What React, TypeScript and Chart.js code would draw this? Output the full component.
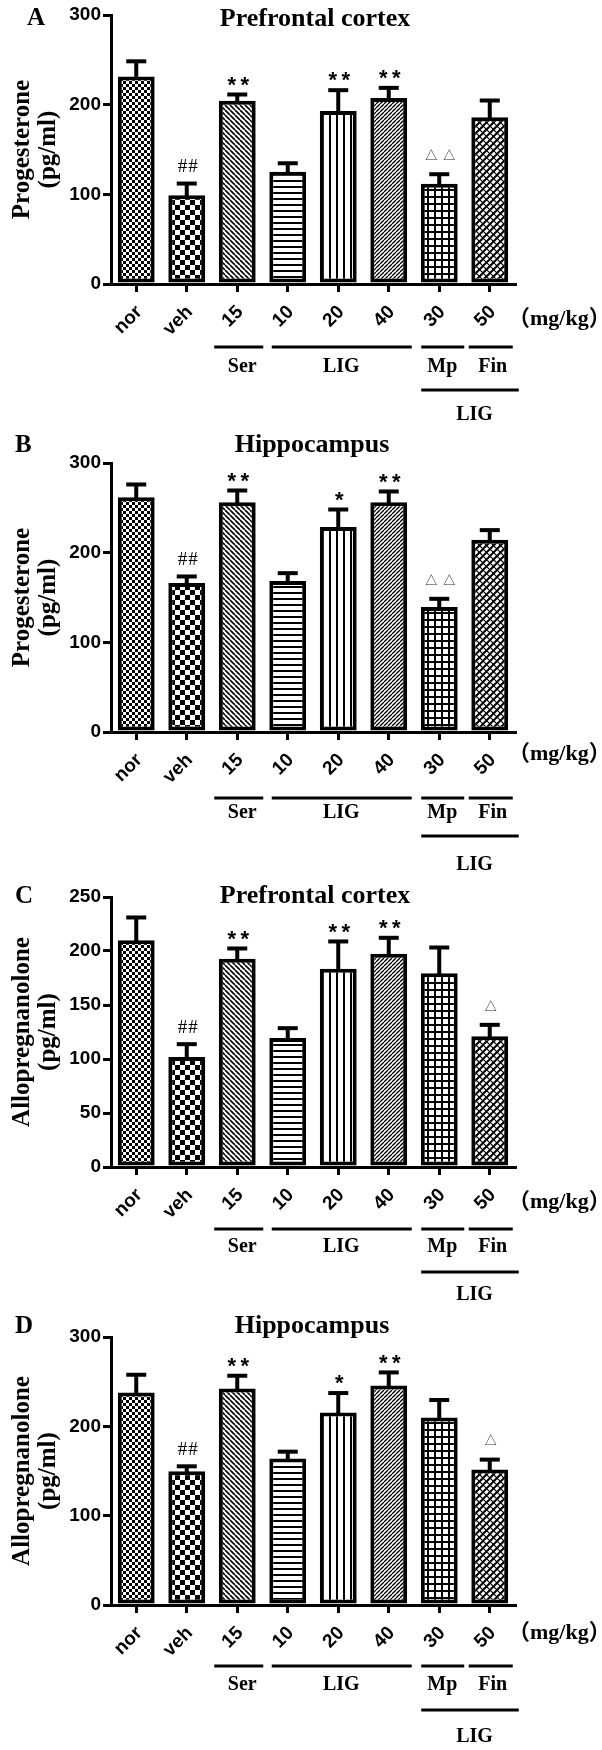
import { useEffect, useRef } from 'react';
import { Chart, registerables } from 'chart.js';
Chart.register(...registerables);

// ---------- data ----------
const categories = ['nor', 'veh', '15', '10', '20', '40', '30', '50'];

const progPfcMean = [231.5, 98.9, 204.4, 125.2, 193.0, 207.4, 111.9, 185.9];
const progPfcSem = [17.4, 13.7, 7.5, 10.0, 23.7, 11.9, 11.1, 19.3];
const progPfcMarks = ['', '##', '**', '', '**', '**', '△△', ''];

const progHipMean = [261.7, 166.2, 256.1, 168.4, 228.6, 256.1, 139.4, 214.5];
const progHipSem = [14.9, 7.8, 13.8, 9.3, 20.1, 12.7, 9.7, 11.2];
const progHipMarks = ['', '##', '**', '', '*', '**', '△△', ''];

const alloPfcMean = [209.9, 101.9, 192.9, 119.4, 183.6, 197.5, 179.3, 121.0];
const alloPfcSem = [21.6, 12.3, 9.9, 9.6, 25.7, 15.2, 24.4, 11.1];
const alloPfcMarks = ['', '##', '**', '', '**', '**', '', '△'];

const alloHipMean = [237.8, 149.8, 242.3, 164.0, 215.4, 245.6, 209.8, 151.7];
const alloHipSem = [20.5, 6.0, 14.9, 8.2, 22.4, 15.3, 20.2, 11.6];
const alloHipMarks = ['', '##', '**', '', '*', '**', '', '△'];

const panelLetters = ['A', 'B', 'C', 'D'];
const panelTitles = ['Prefrontal cortex', 'Hippocampus', 'Prefrontal cortex', 'Hippocampus'];
const yTitleProg = ['Progesterone', '(pg/ml)'];
const yTitleAllo = ['Allopregnanolone', '(pg/ml)'];
const yMaxes = [300, 300, 250, 300];
const ySteps = [100, 100, 50, 100];
const groupLabels = ['Ser', 'LIG', 'Mp', 'Fin'];
const outerGroupLabel = 'LIG';
const unitLabel = '（mg/kg）';

// ---------- layout / style (page pixels) ----------
const layouts = [
  { top: 0, height: 440, plotTop: 15, plotBottom: 284, letterX: 27, letterBase: 25, titleX: 315, titleBase: 26, unitY: 319, g: [63, 83, 106, 131] },
  { top: 430, height: 450, plotTop: 463, plotBottom: 732, letterX: 15, letterBase: 452, titleX: 312, titleBase: 452, unitY: 754, g: [66, 81, 104, 133] },
  { top: 870, height: 450, plotTop: 897, plotBottom: 1167, letterX: 15, letterBase: 903, titleX: 315, titleBase: 903, unitY: 1202, g: [62, 80, 105, 128] },
  { top: 1310, height: 440, plotTop: 1337, plotBottom: 1605, letterX: 15, letterBase: 1333, titleX: 312, titleBase: 1333, unitY: 1633, g: [61, 80, 105, 132] },
];
const PLOT_LEFT = 111;
const PLOT_RIGHT = 515;
const W = 602;

const patternKinds = ['fineCheck', 'bigCheck', 'backDiag', 'hLines', 'vLines', 'fwdDiag', 'grid', 'cross'];

function makePattern(kind: string): CanvasPattern | string {
  const c = document.createElement('canvas');
  let w = 6, h = 6;
  if (kind === 'bigCheck') { w = 10; h = 10; }
  if (kind === 'backDiag') { w = 5; h = 5; }
  if (kind === 'fwdDiag') { w = 4; h = 4; }
  if (kind === 'hLines') { w = 4; h = 6; }
  if (kind === 'vLines') { w = 7; h = 4; }
  if (kind === 'grid') { w = 7; h = 7; }
  if (kind === 'cross') { w = 7; h = 7; }
  c.width = w; c.height = h;
  const g = c.getContext('2d');
  if (!g) return '#fff';
  g.fillStyle = '#fff';
  g.fillRect(0, 0, w, h);
  g.fillStyle = '#000';
  g.strokeStyle = '#000';
  const back = (lw: number) => {
    g.lineWidth = lw;
    for (const k of [-w, 0, w]) { g.beginPath(); g.moveTo(k, 0); g.lineTo(k + w, h); g.stroke(); }
  };
  const fwd = (lw: number) => {
    g.lineWidth = lw;
    for (const k of [-w, 0, w]) { g.beginPath(); g.moveTo(k, h); g.lineTo(k + w, 0); g.stroke(); }
  };
  switch (kind) {
    case 'fineCheck': g.fillRect(0, 0, 3, 3); g.fillRect(3, 3, 3, 3); break;
    case 'bigCheck': g.fillRect(0, 0, 5, 5); g.fillRect(5, 5, 5, 5); break;
    case 'backDiag': back(1.6); break;
    case 'fwdDiag': fwd(1.3); break;
    case 'hLines': g.fillRect(0, 0, w, 2); break;
    case 'vLines': g.fillRect(0, 0, 2, h); break;
    case 'grid': g.fillRect(0, 0, w, 2); g.fillRect(0, 0, 2, h); break;
    case 'cross': fwd(2); back(1.2); break;
  }
  return g.createPattern(c, 'repeat') || '#fff';
}

type Panel = {
  mean: number[]; sem: number[]; marks: string[]; yTitle: string[];
};

const panels: Panel[] = [
  { mean: progPfcMean, sem: progPfcSem, marks: progPfcMarks, yTitle: yTitleProg },
  { mean: progHipMean, sem: progHipSem, marks: progHipMarks, yTitle: yTitleProg },
  { mean: alloPfcMean, sem: alloPfcSem, marks: alloPfcMarks, yTitle: yTitleAllo },
  { mean: alloHipMean, sem: alloHipSem, marks: alloHipMarks, yTitle: yTitleAllo },
];

function PanelChart({ idx }: { idx: number }) {
  const ref = useRef<HTMLCanvasElement | null>(null);
  const L = layouts[idx];
  useEffect(() => {
    const canvas = ref.current;
    if (!canvas) return;
    const p = panels[idx];
    const top = L.top;
    const patterns = patternKinds.map(makePattern);

    const overlay = {
      id: 'overlay' + idx,
      afterDatasetsDraw(chart: any) {
        const ctx: CanvasRenderingContext2D = chart.ctx;
        const ys = chart.scales.y;
        const meta = chart.getDatasetMeta(0);
        ctx.save();
        ctx.fillStyle = '#000';
        meta.data.forEach((bar: any, i: number) => {
          const x = bar.x;
          const yTop = bar.y;
          const yErr = ys.getPixelForValue(p.mean[i] + p.sem[i]);
          ctx.fillRect(x - 2, yErr, 4, yTop - yErr + 2);
          ctx.fillRect(x - 10, yErr - 1.5, 20, 4);
        });
        ctx.restore();
      },
      afterDraw(chart: any) {
        const ctx: CanvasRenderingContext2D = chart.ctx;
        const xs = chart.scales.x;
        const ys = chart.scales.y;
        const area = chart.chartArea;
        const zero = ys.getPixelForValue(0);
        ctx.save();
        ctx.fillStyle = '#000';
        // panel letter
        ctx.font = 'bold 25px "Liberation Serif", "Times New Roman", serif';
        ctx.textAlign = 'left';
        ctx.textBaseline = 'alphabetic';
        ctx.fillText(panelLetters[idx], L.letterX, L.letterBase - top);
        // title
        ctx.font = 'bold 26px "Liberation Serif", "Times New Roman", serif';
        ctx.textAlign = 'center';
        ctx.fillText(panelTitles[idx], L.titleX, L.titleBase - top);
        // y title
        ctx.save();
        const cy = (area.top + area.bottom) / 2;
        ctx.font = 'bold 25px "Liberation Serif", "Times New Roman", serif';
        ctx.translate(0, cy);
        ctx.rotate(-Math.PI / 2);
        ctx.textAlign = 'center';
        ctx.fillText(p.yTitle[0], 0, 29);
        ctx.fillText(p.yTitle[1], 0, 55);
        ctx.restore();
        // unit
        ctx.font = 'bold 22px "Liberation Serif", "Noto Sans CJK SC", serif';
        ctx.textAlign = 'left';
        ctx.textBaseline = 'middle';
        ctx.fillText(unitLabel, 508, L.unitY - top);
        // group lines
        const px = (i: number) => xs.getPixelForValue(i);
        const spans = [
          { a: px(2) - 23, b: px(2) + 26, c: px(2) + 5 },
          { a: px(3) - 16, b: px(5) + 23, c: (px(3) + px(5)) / 2 + 3 },
          { a: px(6) - 18, b: px(6) + 25, c: px(6) + 3 },
          { a: px(7) - 21, b: px(7) + 23, c: px(7) + 3 },
        ];
        const yl1 = zero + L.g[0];
        const yLab = zero + L.g[1];
        const yl2 = zero + L.g[2];
        const yLab2 = zero + L.g[3];
        ctx.font = 'bold 20px "Liberation Serif", "Times New Roman", serif';
        ctx.textAlign = 'center';
        spans.forEach((s, k) => {
          ctx.fillRect(s.a, yl1 - 1.5, s.b - s.a, 3);
          ctx.fillText(groupLabels[k], s.c, yLab);
        });
        const oa = px(6) - 18, ob = px(7) + 29;
        ctx.fillRect(oa, yl2 - 1.5, ob - oa, 3);
        ctx.fillText(outerGroupLabel, (px(6) + px(7)) / 2 + 10, yLab2);
        // significance marks
        ctx.textBaseline = 'alphabetic';
        p.marks.forEach((m, i) => {
          if (!m) return;
          const x = px(i);
          const errTop = ys.getPixelForValue(p.mean[i] + p.sem[i]);
          const chars = Array.from(m);
          let font = '', pitch = 13, k = 0.58, size = 22, gap = 15;
          if (chars[0] === '*') {
            size = 22; font = `bold ${size}px "Liberation Sans", Arial, sans-serif`; pitch = 13; k = 0.58; gap = 15; ctx.fillStyle = '#000';
          } else if (chars[0] === '#') {
            size = 19; font = `${size}px "Liberation Serif", serif`; pitch = 10.5; k = 0.34; gap = 17; ctx.fillStyle = '#000';
          } else {
            size = 12; font = `${size}px "Noto Sans CJK SC", "DejaVu Sans", sans-serif`; pitch = 18; k = 0.36; gap = 18; ctx.fillStyle = '#222';
          }
          const cyM = errTop - gap;
          ctx.font = font;
          ctx.textAlign = 'center';
          chars.forEach((ch, j) => {
            const xx = x + 1 + (j - (chars.length - 1) / 2) * pitch;
            ctx.fillText(ch, xx, cyM + k * size);
          });
        });
        ctx.restore();
      },
    };

    const tickFont = { family: '"Liberation Sans", Arial, sans-serif', size: 19, weight: 'bold' as const };
    const chart = new Chart(canvas, {
      type: 'bar',
      data: {
        labels: categories,
        datasets: [{
          data: p.mean,
          backgroundColor: patterns as any,
          borderColor: '#000',
          borderWidth: 4,
          borderSkipped: false,
          barPercentage: 0.73,
          categoryPercentage: 1,
        }],
      },
      options: {
        responsive: false,
        animation: false,
        devicePixelRatio: 1,
        events: [],
        layout: { padding: { top: L.plotTop - top, left: 0, right: W - PLOT_RIGHT, bottom: 0 } },
        plugins: { legend: { display: false }, tooltip: { enabled: false }, title: { display: false } },
        scales: {
          x: {
            offset: true,
            grid: { offset: false, drawOnChartArea: false, drawTicks: true, tickLength: 8, lineWidth: 3, color: '#000' },
            border: { display: true, color: '#000', width: 3 },
            ticks: { color: '#000', font: tickFont, minRotation: 45, maxRotation: 45, autoSkip: false, padding: 9, labelOffset: 3 },
            afterFit: (s: any) => { s.height = L.height - (L.plotBottom - top); },
          },
          y: {
            min: 0,
            max: yMaxes[idx],
            ticks: { stepSize: ySteps[idx], color: '#000', font: tickFont, padding: 2 },
            grid: { drawOnChartArea: false, drawTicks: true, tickLength: 8, lineWidth: 3, color: '#000' },
            border: { display: true, color: '#000', width: 3 },
            afterFit: (s: any) => { s.width = PLOT_LEFT; },
          },
        },
      },
      plugins: [overlay],
    });
    return () => chart.destroy();
  }, [idx]);
  return (
    <canvas
      ref={ref}
      width={W}
      height={L.height}
      style={{ position: 'absolute', left: 0, top: L.top, width: W, height: L.height }}
    />
  );
}

export default function App() {
  return (
    <div style={{ position: 'absolute', left: 0, top: 0, width: 602, height: 1750, background: '#fff', overflow: 'hidden' }}>
      {[0, 1, 2, 3].map((i) => <PanelChart key={i} idx={i} />)}
    </div>
  );
}
